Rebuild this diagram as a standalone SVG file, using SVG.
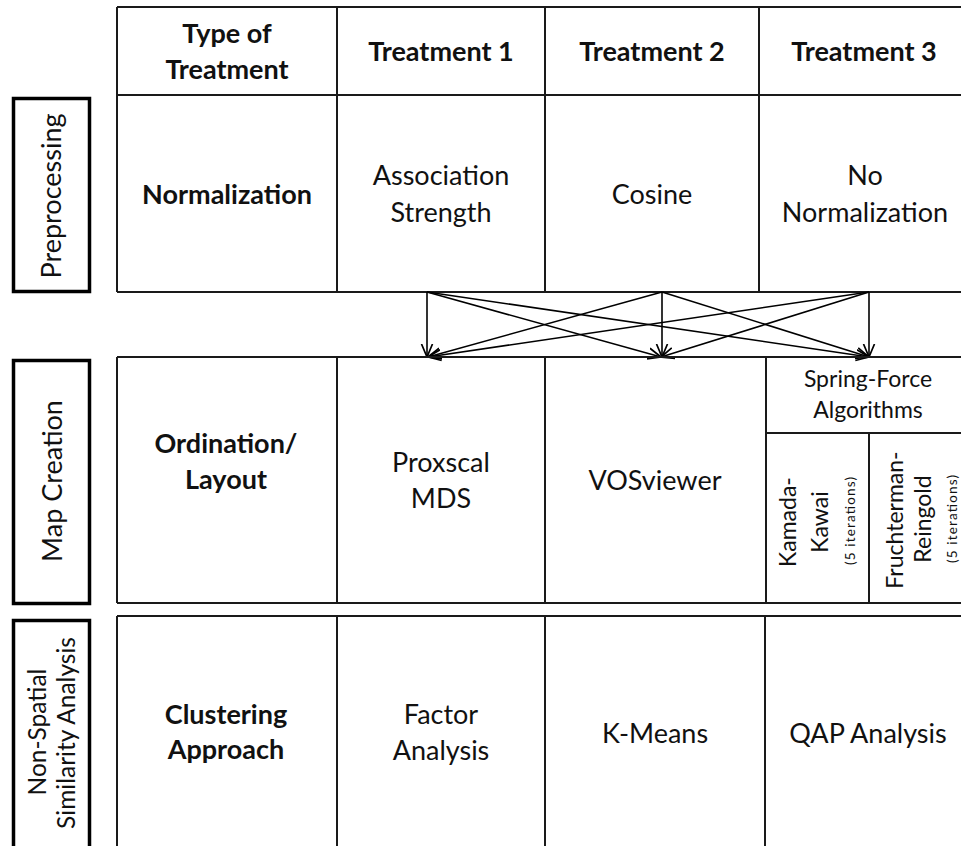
<svg xmlns="http://www.w3.org/2000/svg" width="961" height="846" viewBox="0 0 961 846">
<style>
  .bg { fill: #ffffff; }
  .grid { stroke: #1a1a1a; stroke-width: 2; fill: none; }
  .box { stroke: #000; stroke-width: 3.5; fill: none; }
  .t { font-family: Lato, "Liberation Sans", sans-serif; font-size: 27px; fill: #111; text-anchor: middle; }
  .b { font-weight: bold; }
  .m { font-size: 24.5px; }
  .s { font-size: 23px; }
  .xs { font-size: 13.5px; }
  .arrow { stroke: #000; stroke-width: 1.6; fill: none; marker-end: url(#open); }
</style>
<defs>
  <marker id="open" viewBox="0 0 14 14" refX="13" refY="7" markerWidth="14" markerHeight="14" markerUnits="userSpaceOnUse" orient="auto">
    <path d="M0,1.5 L13,7 L0,12.5" fill="none" stroke="#000" stroke-width="1.7"/>
  </marker>
</defs>
<rect class="bg" x="0" y="0" width="961" height="846"/>

<g id="stage-preprocessing">
  <rect class="box" x="13.5" y="98.5" width="76" height="193"/>
  <text class="t" transform="translate(61,196) rotate(-90)">Preprocessing</text>
</g>
<g id="stage-map-creation">
  <rect class="box" x="13.5" y="360.5" width="76" height="243"/>
  <text class="t" transform="translate(62,481) rotate(-90)">Map Creation</text>
</g>
<g id="stage-nonspatial">
  <rect class="box" x="13.5" y="620.5" width="76" height="240"/>
  <text class="t m" transform="translate(46,732) rotate(-90)">Non-Spatial</text>
  <text class="t m" transform="translate(75,733) rotate(-90)">Similarity Analysis</text>
</g>

<g id="table-top">
  <path class="grid" d="M117,7 H961 M117,95 H961 M117,292 H961 M117,7 V292 M337,7 V292 M545,7 V292 M759,7 V292"/>
  <g id="hdr-type"><text class="t b" x="227" y="43">Type of</text><text class="t b" x="227" y="79">Treatment</text></g>
  <g id="hdr-t1"><text class="t b" x="441" y="61">Treatment 1</text></g>
  <g id="hdr-t2"><text class="t b" x="652" y="61">Treatment 2</text></g>
  <g id="hdr-t3"><text class="t b" x="864" y="61">Treatment 3</text></g>
  <g id="row-normalization"><text class="t b" x="227" y="204">Normalization</text></g>
  <g id="norm-association"><text class="t" x="441" y="185">Association</text><text class="t" x="441" y="222">Strength</text></g>
  <g id="norm-cosine"><text class="t" x="652" y="204">Cosine</text></g>
  <g id="norm-none"><text class="t" x="865" y="185">No</text><text class="t" x="865" y="222">Normalization</text></g>
</g>

<g id="connectors">
  <line class="arrow" x1="427" y1="292" x2="427" y2="357"/>
  <line class="arrow" x1="427" y1="292" x2="661" y2="357"/>
  <line class="arrow" x1="427" y1="292" x2="869" y2="357"/>
  <line class="arrow" x1="662" y1="292" x2="428" y2="357"/>
  <line class="arrow" x1="662" y1="292" x2="662" y2="357"/>
  <line class="arrow" x1="662" y1="292" x2="869" y2="357"/>
  <line class="arrow" x1="869" y1="292" x2="428" y2="357"/>
  <line class="arrow" x1="869" y1="292" x2="661" y2="357"/>
  <line class="arrow" x1="869" y1="292" x2="869" y2="357"/>
</g>

<g id="table-middle">
  <path class="grid" d="M117,357 H961 M117,603 H961 M117,357 V603 M337,357 V603 M545,357 V603 M766,357 V603 M766,433 H961 M869,433 V603"/>
  <g id="row-ordination"><text class="t b" x="226" y="453">Ordination/</text><text class="t b" x="226" y="489">Layout</text></g>
  <g id="layout-proxscal"><text class="t" x="441" y="472">Proxscal</text><text class="t" x="441" y="508">MDS</text></g>
  <g id="layout-vos"><text class="t" x="655" y="490">VOSviewer</text></g>
  <g id="layout-spring"><text class="t s" x="868" y="387">Spring-Force</text><text class="t s" x="868" y="418">Algorithms</text></g>
  <g id="layout-kk">
    <text class="t s" transform="translate(796,522) rotate(-90)">Kamada-</text>
    <text class="t s" transform="translate(828,522) rotate(-90)">Kawai</text>
    <text class="t xs" transform="translate(855,521) rotate(-90)" textLength="88" lengthAdjust="spacing">(5 iterations)</text>
  </g>
  <g id="layout-fr">
    <text class="t s" transform="translate(903,520) rotate(-90)">Fruchterman-</text>
    <text class="t s" transform="translate(931,519) rotate(-90)">Reingold</text>
    <text class="t xs" transform="translate(957,519) rotate(-90)" textLength="88" lengthAdjust="spacing">(5 iterations)</text>
  </g>
</g>

<g id="table-bottom">
  <path class="grid" d="M117,616 H961 M117,616 V846 M337,616 V846 M545,616 V846 M765,616 V846"/>
  <g id="row-clustering"><text class="t b" x="226" y="724">Clustering</text><text class="t b" x="226" y="759">Approach</text></g>
  <g id="cl-factor"><text class="t" x="441" y="724">Factor</text><text class="t" x="441" y="760">Analysis</text></g>
  <g id="cl-kmeans"><text class="t" x="655" y="743">K-Means</text></g>
  <g id="cl-qap"><text class="t" x="868" y="743">QAP Analysis</text></g>
</g>
</svg>
